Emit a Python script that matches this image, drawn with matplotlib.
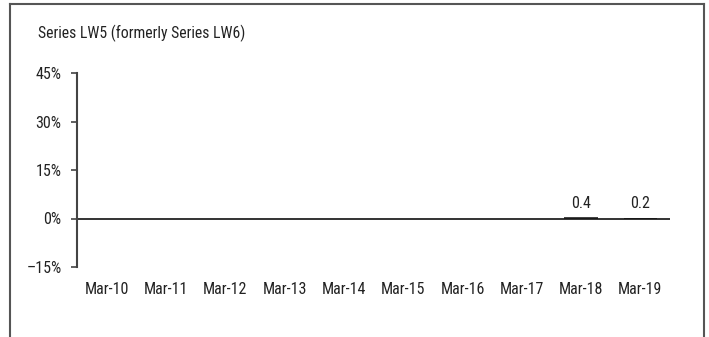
import matplotlib
matplotlib.use("Agg")
import matplotlib.pyplot as plt
from matplotlib import font_manager

categories = ["Mar-10", "Mar-11", "Mar-12", "Mar-13", "Mar-14", "Mar-15", "Mar-16", "Mar-17", "Mar-18", "Mar-19"]
values = [None, None, None, None, None, None, None, None, 0.4, 0.2]
yticks = [-15, 0, 15, 30, 45]
ytick_labels = ["\u201315%", "0%", "15%", "30%", "45%"]
title = "Series LW5 (formerly Series LW6)"

names = {f.name for f in font_manager.fontManager.ttflist}
fam = "DejaVu Sans"
for cand in ["Roboto Condensed", "Archivo Narrow", "Barlow Condensed", "Asap Condensed"]:
    if cand in names:
        fam = cand
        break
plt.rcParams["font.family"] = [fam, "DejaVu Sans"]
FS = 11.5

W, H = 709, 337
fig = plt.figure(figsize=(W / 100, H / 100), dpi=100)
ax = fig.add_axes([77 / W, 1 - 267 / H, (670 - 77) / W, (267 - 73) / H])

xs = list(range(len(categories)))
bx = [x for x, v in zip(xs, values) if v is not None]
bv = [v for v in values if v is not None]
ax.bar(bx, bv, width=0.56, color="#444444")
for x, v in zip(bx, bv):
    ax.text(x, v + 2.0, f"{v:.1f}", ha="center", va="bottom", fontsize=FS, color="#222222")

ax.axhline(0, color="#111111", lw=1.2)
ax.set_xlim(-0.5, len(categories) - 0.5)
ax.set_ylim(-15, 45)
ax.set_yticks(yticks)
ax.set_yticklabels(ytick_labels)
ax.set_xticks(xs)
ax.set_xticklabels(categories)
ax.tick_params(axis="x", length=0, pad=11, labelsize=FS, labelcolor="#222222")
ax.tick_params(axis="y", length=4, width=1.2, color="#444444", pad=7, labelsize=FS, labelcolor="#222222")
for s in ["top", "right", "bottom"]:
    ax.spines[s].set_visible(False)
ax.spines["left"].set_color("#444444")
ax.spines["left"].set_linewidth(1.5)
ax.patch.set_visible(False)

fig.text(38 / W, 1 - 38 / H, title, ha="left", va="baseline", fontsize=11.3, color="#222222")

# frame (no bottom edge)
c = "#555555"
fig.add_artist(plt.Line2D([10 / W, 10 / W], [0, 1 - 4 / H], transform=fig.transFigure, color=c, lw=1.5))
fig.add_artist(plt.Line2D([10 / W, 704 / W], [1 - 4 / H, 1 - 4 / H], transform=fig.transFigure, color=c, lw=1.5))
fig.add_artist(plt.Line2D([704 / W, 704 / W], [0, 1 - 4 / H], transform=fig.transFigure, color=c, lw=1.5))

fig.savefig("out.png", dpi=100)
